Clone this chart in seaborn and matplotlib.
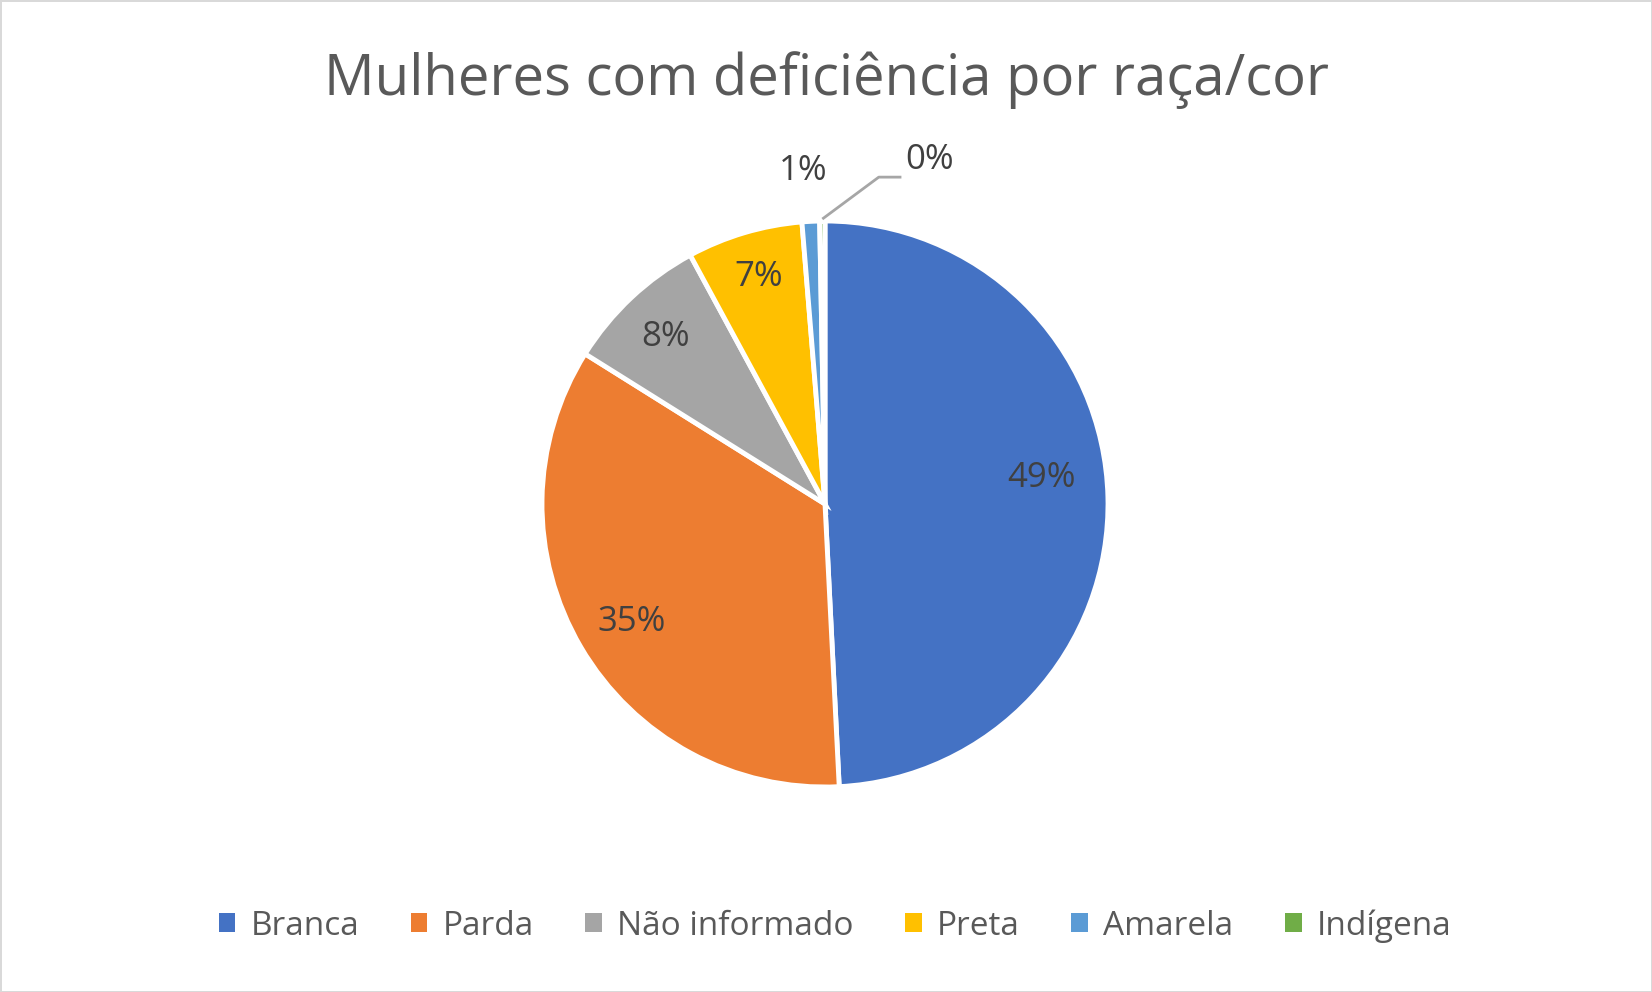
import matplotlib
matplotlib.use("Agg")
import matplotlib.pyplot as plt
import numpy as np
import seaborn as sns

categories = ["Branca", "Parda", "Não informado", "Preta", "Amarela", "Indígena"]
values = [49.2, 34.7, 8.2, 6.6, 1.0, 0.3]
labels = ["49%", "35%", "8%", "7%", "1%", "0%"]
colors = ["#4472C4", "#ED7D31", "#A5A5A5", "#FFC000", "#5B9BD5", "#70AD47"]

sns.set_theme(style="white")
plt.rcParams['font.family'] = ['Open Sans', 'DejaVu Sans']

W, H = 1652, 992
fig = plt.figure(figsize=(W / 100, H / 100), dpi=100)
fig.patch.set_facecolor("white")
fig.patch.set_edgecolor("#D9D9D9")
fig.patch.set_linewidth(2)

cx, cy, r = 825, 504, 283
ax = fig.add_axes([(cx - r) / W, (H - cy - r) / H, 2 * r / W, 2 * r / H])

wedges, _ = ax.pie(values, colors=colors, startangle=90, counterclock=False,
                   radius=1.0, wedgeprops=dict(edgecolor="white", linewidth=3.5))
ax.set_xlim(-1, 1)
ax.set_ylim(-1, 1)
ax.axis("off")

# label placement (radius, angle in degrees), Excel "best fit" style
label_pos = [(0.77, 6.9), (0.80, 211.5), (0.815, 133.7), (0.836, 106.3),
             (1.18, 93.8)]
text_color = "#404040"
for lab, (d, a) in zip(labels[:5], label_pos):
    a = np.deg2rad(a)
    ax.text(d * np.cos(a), d * np.sin(a), lab, ha="center", va="center",
            fontsize=25, color=text_color)

# Indígena: label with leader line
w = wedges[5]
ang = np.deg2rad((w.theta1 + w.theta2) / 2)
ax.plot([1.007 * np.cos(ang), 0.19, 0.27], [1.007 * np.sin(ang), 1.155, 1.155],
        color="#A6A6A6", linewidth=2, clip_on=False, solid_capstyle="butt")
ax.text(0.285, 1.215, labels[5], ha="left", va="center", fontsize=25, color=text_color)

fig.text(0.5, 1 - 80 / H, "Mulheres com deficiência por raça/cor", ha="center",
         va="center", fontsize=40.5, color="#595959")

leg = fig.legend(wedges, categories, loc="center", ncol=6,
                 bbox_to_anchor=(835 / W, 1 - 926 / H), frameon=False,
                 fontsize=24, handlelength=0.5, handleheight=0.5,
                 columnspacing=1.55, handletextpad=0.45)
for t in leg.get_texts():
    t.set_color("#595959")
for p in leg.get_patches():
    p.set_edgecolor("none")

fig.savefig("out.png", dpi=100, facecolor=fig.get_facecolor(),
            edgecolor=fig.get_edgecolor())
